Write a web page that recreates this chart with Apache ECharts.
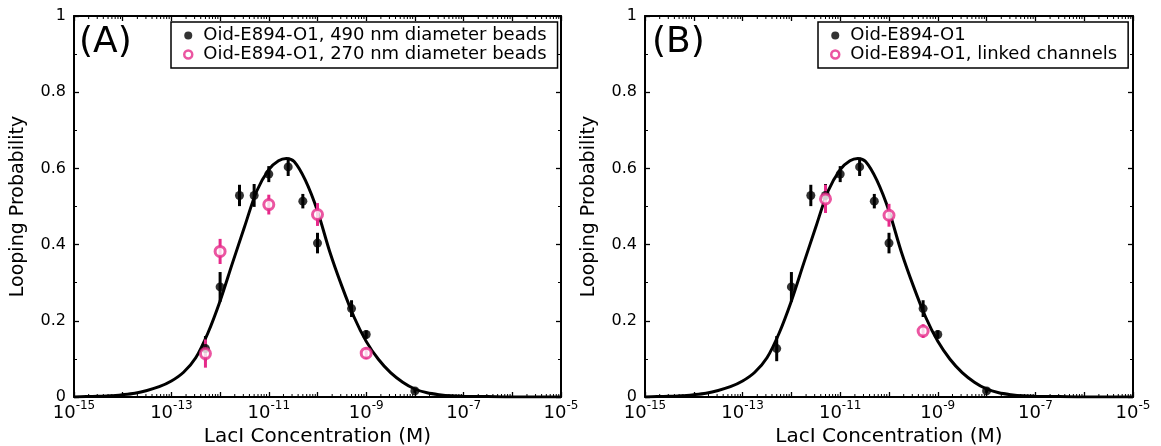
<!DOCTYPE html>
<html>
<head>
<meta charset="utf-8">
<script src="https://cdn.jsdelivr.net/npm/echarts@6/dist/echarts.min.js"></script>
<style>
html, body { margin: 0; padding: 0; background: #fff; }
#chart { width: 1161px; height: 446px; }
</style>
</head>
<body>
<div id="chart"></div>
<script>
// LacI concentrations (M) and looping probabilities
var concBlack = [5e-13, 1e-12, 2.5e-12, 5e-12, 1e-11, 2.5e-11, 5e-11, 1e-10, 5e-10, 1e-9, 1e-8];
var probBlack = [0.127, 0.289, 0.529, 0.529, 0.585, 0.604, 0.514, 0.404, 0.232, 0.164, 0.016];
var errBlack  = [0.033, 0.039, 0.028, 0.030, 0.021, 0.024, 0.019, 0.027, 0.022, 0.011, 0.005];

var conc270 = [5e-13, 1e-12, 1e-11, 1e-10, 1e-9];
var prob270 = [0.114, 0.382, 0.505, 0.479, 0.115];
var err270  = [0.037, 0.033, 0.026, 0.030, 0.015];

var concLinked = [5e-12, 1e-10, 5e-10];
var probLinked = [0.520, 0.477, 0.173];
var errLinked  = [0.037, 0.030, 0.018];

// fit curve, read about every quarter decade (log10 of concentration, probability)
var fitLogConc = [-15, -14.75, -14.5, -14.25, -14, -13.75, -13.5, -13.25, -13, -12.75, -12.5, -12.25, -12, -11.75,
                  -11.5, -11.25, -11, -10.8, -10.64, -10.48, -10.25, -10, -9.75, -9.5, -9.25, -9, -8.75, -8.5, -8.25,
                  -8, -7.75, -7.5, -7.25, -7, -6.5, -6, -5];
var fitProb    = [0, 0.001, 0.002, 0.003, 0.006, 0.010, 0.017, 0.027, 0.042, 0.065, 0.103, 0.168, 0.252, 0.350,
                  0.446, 0.540, 0.597, 0.620, 0.626, 0.618, 0.569, 0.488, 0.382, 0.291, 0.210, 0.146, 0.099, 0.064, 0.039,
                  0.021, 0.011, 0.006, 0.003, 0.002, 0.001, 0, 0];

var xLabelExps = [-15, -13, -11, -9, -7, -5];
var minorMantissa = [2, 3, 4, 5, 6, 7, 8, 9];

var legendA = ['Oid-E894-O1, 490 nm diameter beads', 'Oid-E894-O1, 270 nm diameter beads'];
var legendB = ['Oid-E894-O1', 'Oid-E894-O1, linked channels'];

var FONT = 'DejaVu Sans';
var PINK = '#e62a8a';

var minorTicks = [];
for (var e = -15; e < -5; e++) {
  minorMantissa.forEach(function (m) { minorTicks.push([e + Math.log10(m)]); });
}

function pairs(conc, prob, err) {
  return conc.map(function (c, i) { return [Math.log10(c), prob[i], err ? err[i] : 0]; });
}

function xAxes(grid) {
  var base = {
    type: 'value', gridIndex: grid, min: -15, max: -5, interval: 1,
    axisLine: { show: true, onZero: false, lineStyle: { color: '#000', width: 2 } },
    axisTick: { inside: true, length: 5, lineStyle: { color: '#000', width: 1.3 } },
    splitLine: { show: false }
  };
  var bottom = echarts.util.merge({
    position: 'bottom',
    name: 'LacI Concentration (M)', nameLocation: 'middle', nameGap: 26,
    nameTextStyle: { fontFamily: FONT, fontSize: 20, color: '#000' },
    axisLabel: {
      margin: 3,
      formatter: function (v) {
        var ex = Math.round(v);
        if (xLabelExps.indexOf(ex) < 0) return '';
        return '{b|10}{s|' + ex + '}';
      },
      rich: {
        b: { fontFamily: FONT, fontSize: 18, color: '#000', lineHeight: 22, verticalAlign: 'bottom' },
        s: { fontFamily: FONT, fontSize: 12, color: '#000', lineHeight: 12, verticalAlign: 'top' }
      }
    }
  }, base, true);
  var top = echarts.util.merge({ position: 'top', axisLabel: { show: false } }, base, true);
  return [bottom, top];
}

function yAxes(grid) {
  var base = {
    type: 'value', gridIndex: grid, min: 0, max: 1, interval: 0.2,
    axisLine: { show: true, onZero: false, lineStyle: { color: '#000', width: 2 } },
    axisTick: { inside: true, length: 5, lineStyle: { color: '#000', width: 1.3 } },
    minorTick: { show: true, splitNumber: 2, length: 3, lineStyle: { color: '#000', width: 1 } },
    splitLine: { show: false },
    minorSplitLine: { show: false }
  };
  var left = echarts.util.merge({
    position: 'left',
    name: 'Looping Probability', nameLocation: 'middle', nameGap: 46,
    nameTextStyle: { fontFamily: FONT, fontSize: 19, color: '#000' },
    axisLabel: { fontFamily: FONT, fontSize: 16, color: '#000', margin: 8 }
  }, base, true);
  var right = echarts.util.merge({ position: 'right', axisLabel: { show: false } }, base, true);
  return [left, right];
}

function errorSeries(p, data, color) {
  return {
    type: 'custom', xAxisIndex: 2 * p, yAxisIndex: 2 * p, data: data, silent: true, z: 3,
    encode: { x: 0, y: 1 },
    renderItem: function (params, api) {
      var x = api.value(0), y = api.value(1), er = api.value(2);
      var a = api.coord([x, y + er]), b = api.coord([x, y - er]);
      return { type: 'line', shape: { x1: a[0], y1: a[1], x2: b[0], y2: b[1] },
               style: { stroke: color, lineWidth: 3 } };
    }
  };
}

function tickSeries(p) {
  return {
    type: 'custom', xAxisIndex: 2 * p, yAxisIndex: 2 * p, data: minorTicks, silent: true, z: 1,
    encode: { x: 0 },
    renderItem: function (params, api) {
      var cs = params.coordSys;
      var q = api.coord([api.value(0), 0]);
      var yb = cs.y + cs.height, yt = cs.y;
      return { type: 'group', children: [
        { type: 'line', shape: { x1: q[0], y1: yb, x2: q[0], y2: yb - 3 }, style: { stroke: '#000', lineWidth: 1 } },
        { type: 'line', shape: { x1: q[0], y1: yt, x2: q[0], y2: yt + 3 }, style: { stroke: '#000', lineWidth: 1 } }
      ] };
    }
  };
}

function fitSeries(p) {
  return {
    type: 'line', xAxisIndex: 2 * p, yAxisIndex: 2 * p, silent: true, z: 2,
    data: fitLogConc.map(function (l, i) { return [l, fitProb[i]]; }),
    smooth: 0.3, showSymbol: false, symbol: 'none',
    lineStyle: { color: '#000', width: 3 }
  };
}

function blackDots(p, name) {
  return {
    type: 'scatter', name: name, xAxisIndex: 2 * p, yAxisIndex: 2 * p, z: 4,
    data: pairs(concBlack, probBlack), symbolSize: 9,
    itemStyle: { color: '#000' }
  };
}

function pinkRings(p, name, conc, prob) {
  return {
    type: 'scatter', name: name, xAxisIndex: 2 * p, yAxisIndex: 2 * p, z: 5,
    data: pairs(conc, prob), symbolSize: 10,
    itemStyle: { color: '#fff', borderColor: PINK, borderWidth: 3 }
  };
}

function legend(left, names) {
  return {
    left: left, top: 22, orient: 'vertical',
    data: [
      { name: names[0], icon: 'circle', itemStyle: { color: '#000' } },
      { name: names[1], icon: 'circle', itemStyle: { color: '#fff', borderColor: PINK, borderWidth: 2.5 } }
    ],
    backgroundColor: '#fff', borderColor: '#000', borderWidth: 1.5, borderRadius: 0,
    padding: [4, 11, 4, 12], itemGap: 0, itemWidth: 8, itemHeight: 8,
    textStyle: { fontFamily: FONT, fontSize: 18, color: '#000', lineHeight: 19, padding: [0, 0, 0, 6] }
  };
}

var chart = echarts.init(document.getElementById('chart'), null, { renderer: 'canvas' });

var xs = xAxes(0).concat(xAxes(1));
var ys = yAxes(0).concat(yAxes(1));

chart.setOption({
  animation: false,
  backgroundColor: '#fff',
  title: [
    { text: '(A)', left: 79, top: 25, padding: 0, textStyle: { fontFamily: FONT, fontSize: 36, fontWeight: 'normal', color: '#000' } },
    { text: '(B)', left: 652, top: 25, padding: 0, textStyle: { fontFamily: FONT, fontSize: 36, fontWeight: 'normal', color: '#000' } }
  ],
  legend: [legend(171, legendA), legend(818, legendB)],
  grid: [
    { left: 74, right: 600, top: 16, bottom: 49, containLabel: false, outerBoundsMode: 'none' },
    { left: 645, right: 28, top: 16, bottom: 49, containLabel: false, outerBoundsMode: 'none' }
  ],
  xAxis: xs,
  yAxis: ys,
  series: [
    tickSeries(0), tickSeries(1),
    fitSeries(0), fitSeries(1),
    errorSeries(0, pairs(concBlack, probBlack, errBlack), '#000'),
    blackDots(0, legendA[0]),
    errorSeries(0, pairs(conc270, prob270, err270), PINK),
    pinkRings(0, legendA[1], conc270, prob270),
    errorSeries(1, pairs(concBlack, probBlack, errBlack), '#000'),
    blackDots(1, legendB[0]),
    errorSeries(1, pairs(concLinked, probLinked, errLinked), PINK),
    pinkRings(1, legendB[1], concLinked, probLinked)
  ]
});
</script>
</body>
</html>
